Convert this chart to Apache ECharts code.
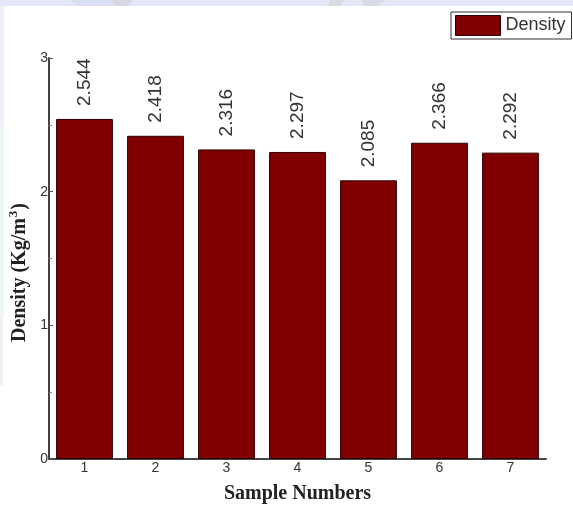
<!DOCTYPE html>
<html>
<head>
<meta charset="utf-8">
<script src="https://cdn.jsdelivr.net/npm/echarts@6/dist/echarts.min.js"></script>
<style>
  html, body { margin: 0; padding: 0; background: #ffffff; }
  #chart { width: 573px; height: 505px; }
</style>
</head>
<body>
<div id="chart"></div>
<script>
// Sample categories and measured densities (Kg/m^3)
const categories = ['1', '2', '3', '4', '5', '6', '7'];
const densityValues = [2.544, 2.418, 2.316, 2.297, 2.085, 2.366, 2.292];
const seriesName = 'Density';

const chart = echarts.init(document.getElementById('chart'), null, { renderer: 'canvas' });

const sansFont = 'Liberation Sans, Arial, sans-serif';
const serifFont = 'Liberation Serif, Times New Roman, serif';

const option = {
  backgroundColor: '#ffffff',
  animation: false,
  graphic: [
    // faint page decoration along the top and left edges
    { type: 'rect', shape: { x: 0, y: 0, width: 573, height: 6 }, style: { fill: '#e4e7f6' }, z: -10 },
    { type: 'rect', shape: { x: 0, y: 6, width: 4, height: 120 }, style: { fill: '#eef1fa' }, z: -10 },
    { type: 'rect', shape: { x: 0, y: 126, width: 4, height: 190 }, style: { fill: '#eef8f2' }, z: -10 },
    { type: 'rect', shape: { x: 0, y: 316, width: 3, height: 70 }, style: { fill: '#eef0f3' }, z: -10 },
    { type: 'polygon', shape: { points: [[70, 0], [120, 0], [112, 6], [78, 6]] }, style: { fill: '#d9def2' }, z: -9 },
    { type: 'polygon', shape: { points: [[112, 0], [132, 0], [128, 6], [115, 6]] }, style: { fill: '#d3d8e3' }, z: -9 },
    { type: 'polygon', shape: { points: [[330, 0], [345, 0], [340, 6], [328, 6]] }, style: { fill: '#d8dce2' }, z: -9 },
    { type: 'polygon', shape: { points: [[362, 0], [385, 0], [378, 6], [365, 6]] }, style: { fill: '#d8dce2' }, z: -9 }
  ],
  legend: {
    data: [seriesName],
    left: 451,
    top: 12,
    icon: 'rect',
    itemWidth: 45,
    itemHeight: 20,
    padding: [3, 6, 3, 4],
    borderColor: '#333',
    borderWidth: 1,
    borderRadius: 0,
    backgroundColor: '#ffffff',
    itemStyle: { borderColor: '#2a0000', borderWidth: 1 },
    textStyle: { fontFamily: sansFont, fontSize: 18, color: '#333', padding: [0, 0, 0, 0] }
  },
  grid: { left: 49, right: 27, top: 58, bottom: 46, containLabel: false, outerBoundsMode: 'none' },
  xAxis: {
    type: 'category',
    data: categories,
    name: 'Sample Numbers',
    nameLocation: 'middle',
    nameGap: 25,
    nameTextStyle: { fontFamily: serifFont, fontWeight: 'bold', fontSize: 20, color: '#222' },
    axisLine: { lineStyle: { color: '#444', width: 2 } },
    axisTick: { alignWithLabel: true, length: 3, lineStyle: { color: '#555' } },
    axisLabel: { fontFamily: sansFont, fontSize: 14, color: '#333', margin: 2 }
  },
  yAxis: {
    type: 'value',
    min: 0,
    max: 3,
    interval: 1,
    name: '{t|Density (Kg/m}{s|3}{t|)}',
    nameLocation: 'middle',
    nameGap: 17,
    nameMoveOverlap: false,
    nameRotate: 90,
    nameTextStyle: {
      padding: [0, 28, 0, 0],
      rich: {
        t: { fontFamily: serifFont, fontWeight: 'bold', fontSize: 20, color: '#222' },
        s: { fontFamily: serifFont, fontWeight: 'bold', fontSize: 13, color: '#222', padding: [0, 1, 12, 1] }
      }
    },
    axisLine: { show: true, lineStyle: { color: '#444', width: 2 } },
    axisTick: { show: true, inside: true, length: 4, lineStyle: { color: '#555' } },
    minorTick: { show: true, splitNumber: 2, length: 3, lineStyle: { color: '#888' } },
    splitLine: { show: false },
    axisLabel: { fontFamily: sansFont, fontSize: 14, color: '#333', margin: 1 }
  },
  series: [{
    name: seriesName,
    type: 'bar',
    data: densityValues,
    barCategoryGap: '20%',
    itemStyle: { color: '#800000', borderColor: '#2a0000', borderWidth: 1 },
    label: {
      show: true,
      position: 'top',
      rotate: 90,
      align: 'left',
      verticalAlign: 'middle',
      distance: 13,
      formatter: p => p.value.toFixed(3),
      fontFamily: sansFont,
      fontSize: 19,
      color: '#333'
    }
  }]
};

chart.setOption(option);
</script>
</body>
</html>
